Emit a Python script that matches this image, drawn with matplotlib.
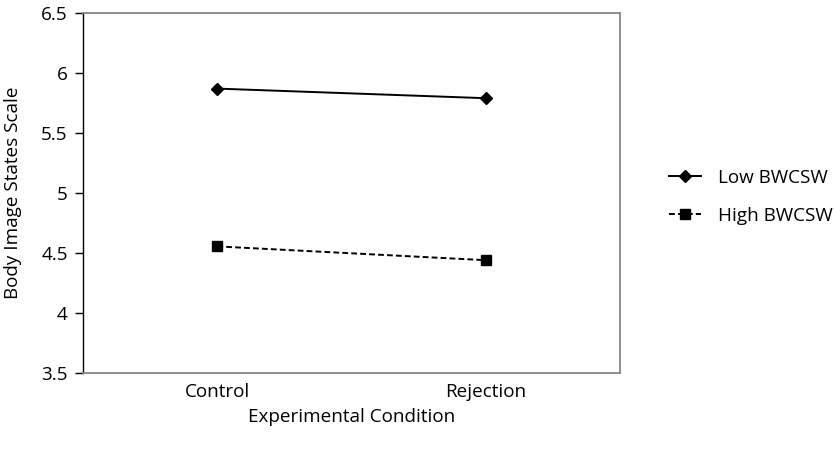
import matplotlib
matplotlib.use("Agg")
import matplotlib.pyplot as plt

plt.rcParams['font.family'] = ['Open Sans', 'DejaVu Sans']

# date
conditii = ["Control", "Rejection"]
low_bwcsw = [5.87, 5.79]
high_bwcsw = [4.555, 4.44]
y_ticks = [3.5, 4, 4.5, 5, 5.5, 6, 6.5]

fs = 13.6

fig = plt.figure(figsize=(8.34, 4.58), dpi=100)
ax = fig.add_axes([83 / 834, 85 / 458, 537 / 834, 360 / 458])

x = range(len(conditii))
ax.plot(x, low_bwcsw, color="black", linestyle="-", linewidth=1.4,
        marker="D", markersize=6.5, label="Low BWCSW")
ax.plot(x, high_bwcsw, color="black", linestyle=(0, (3, 1.6)), linewidth=1.4,
        marker="s", markersize=7.5, label="High BWCSW")

ax.set_xlim(-0.5, 1.5)
ax.set_ylim(3.5, 6.5)
ax.set_xticks(list(x))
ax.set_xticklabels(conditii)
ax.set_yticks(y_ticks)
ax.set_yticklabels([f"{v:g}" for v in y_ticks])
ax.tick_params(axis="x", length=0, labelsize=fs, pad=7)
ax.tick_params(axis="y", length=6, width=1, labelsize=fs, pad=5)

for s in ["top", "right", "bottom"]:
    ax.spines[s].set_color("#868686")
    ax.spines[s].set_linewidth(1.3)
ax.spines["left"].set_color("black")
ax.spines["left"].set_linewidth(1.0)

ax.set_xlabel("Experimental Condition", fontsize=fs, labelpad=5)
ax.set_ylabel("Body Image States Scale", fontsize=fs, labelpad=14)

ax.legend(loc="center left", bbox_to_anchor=(1.06, 0.49), frameon=False,
          fontsize=fs, handlelength=1.7, labelspacing=1.05, handletextpad=0.9)

fig.savefig("out.png", dpi=100)
